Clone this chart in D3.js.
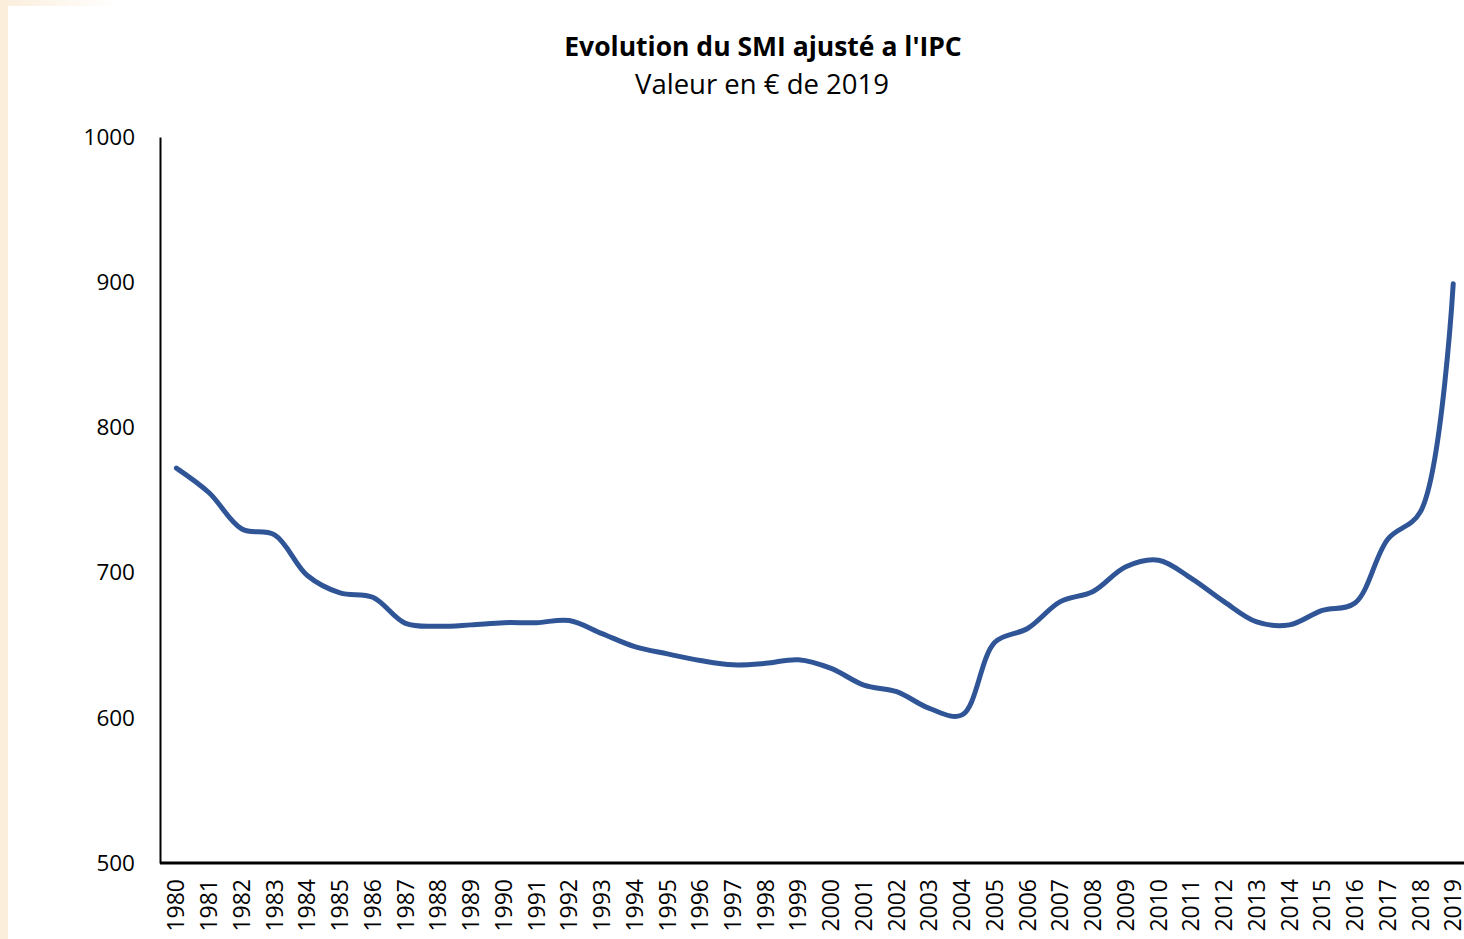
<!DOCTYPE html>
<html>
<head>
<meta charset="utf-8">
<script src="https://cdn.jsdelivr.net/npm/d3@7"></script>
<style>
  body { margin: 0; background: #fff; }
  svg { display: block; }
</style>
</head>
<body>
<svg id="chart"></svg>
<script>
const years = d3.range(1980, 2020);
const smi = [772, 755, 730, 726, 698, 686, 683, 665, 663, 664,
             665.5, 665.5, 667, 658, 649, 644, 639.5, 636.5, 637.5, 640,
             634, 622.5, 618, 606.5, 602, 652, 661.5, 680, 687, 704,
             708.5, 696, 680, 666, 664, 674, 679, 723, 742, 899];
const yTicks = [500, 600, 700, 800, 900, 1000];

const width = 1464, height = 939;
const margin = { top: 137, right: 0, bottom: 76, left: 160 };

const svg = d3.select("#chart").attr("width", width).attr("height", height);

// fond crème sur les bords
const defs = svg.append("defs");
const grad = defs.append("linearGradient").attr("id", "topfade");
grad.append("stop").attr("offset", "0%").attr("stop-color", "#fbeedb");
grad.append("stop").attr("offset", "100%").attr("stop-color", "#ffffff");
svg.append("rect").attr("x", 0).attr("y", 0).attr("width", 120).attr("height", 6).attr("fill", "url(#topfade)");
svg.append("rect").attr("x", 0).attr("y", 0).attr("width", 8).attr("height", height).attr("fill", "#fbefdc");

const x = d3.scaleBand()
    .domain(years)
    .range([margin.left, margin.left + 32.74 * years.length]);

const y = d3.scaleLinear()
    .domain([500, 1000])
    .range([height - margin.bottom, margin.top]);

// axe Y
const yAxis = svg.append("g")
    .attr("transform", "translate(" + margin.left + ",0)")
    .call(d3.axisLeft(y).tickValues(yTicks).tickSize(0).tickPadding(25).tickFormat(d3.format("d")));
yAxis.select(".domain").attr("stroke", "#000").attr("stroke-width", 2);
yAxis.selectAll("text")
    .attr("font-family", "Open Sans, sans-serif")
    .attr("font-size", "22.5px")
    .attr("fill", "#000");

// axe X
const xAxis = svg.append("g")
    .attr("transform", "translate(0," + y(500) + ")")
    .call(d3.axisBottom(x).tickSize(0).tickPadding(0).tickFormat(d3.format("d")));
xAxis.select(".domain")
    .attr("d", "M" + margin.left + ",0H" + width)
    .attr("stroke", "#000").attr("stroke-width", 3);
xAxis.selectAll("text")
    .attr("font-family", "Open Sans, sans-serif")
    .attr("font-size", "23px")
    .attr("fill", "#000")
    .attr("text-anchor", "end")
    .attr("transform", "rotate(-90)")
    .attr("x", -16)
    .attr("y", 0)
    .attr("dy", "0.35em");

// courbe
const line = d3.line()
    .x((d, i) => x(years[i]) + x.bandwidth() / 2)
    .y(d => y(d))
    .curve(d3.curveCatmullRom.alpha(0.5));

svg.append("path")
    .datum(smi)
    .attr("fill", "none")
    .attr("stroke", "#2f5597")
    .attr("stroke-width", 5)
    .attr("stroke-linecap", "round")
    .attr("stroke-linejoin", "round")
    .attr("d", line);

// titres
svg.append("text")
    .attr("x", 763).attr("y", 56)
    .attr("text-anchor", "middle")
    .attr("font-family", "Open Sans, sans-serif")
    .attr("font-weight", "700")
    .attr("font-size", "26.5px")
    .attr("fill", "#000")
    .text("Evolution du SMI ajusté a l'IPC");

svg.append("text")
    .attr("x", 762).attr("y", 94)
    .attr("text-anchor", "middle")
    .attr("font-family", "Open Sans, sans-serif")
    .attr("font-size", "27.5px")
    .attr("fill", "#000")
    .text("Valeur en € de 2019");
</script>
</body>
</html>
